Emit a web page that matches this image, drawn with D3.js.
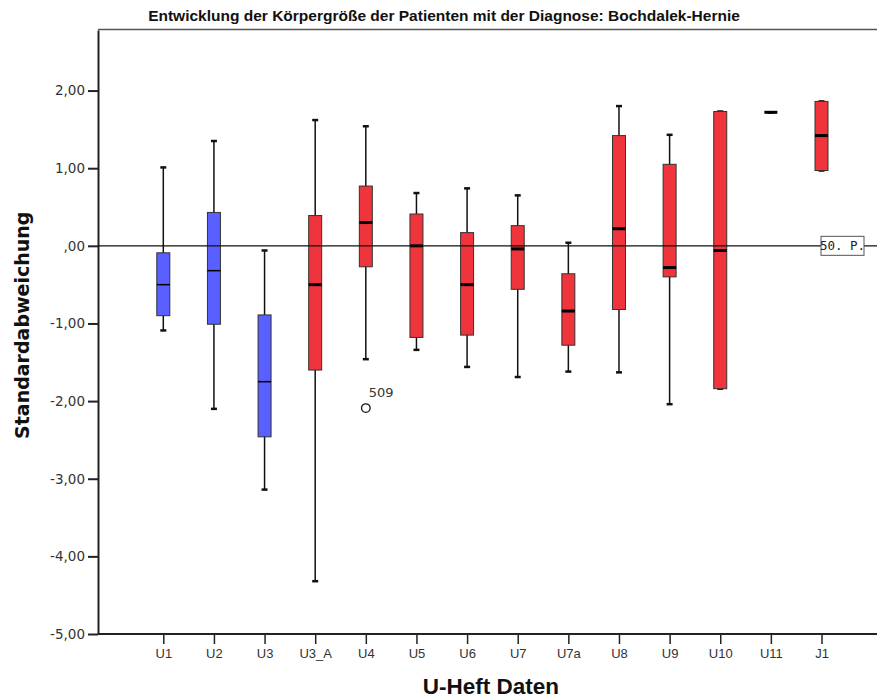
<!DOCTYPE html>
<html>
<head>
<meta charset="utf-8">
<script src="https://cdn.jsdelivr.net/npm/d3@7"></script>
<style>
  body { margin: 0; background: #fff; }
  svg { display: block; }
  .tick text { fill: #333; }
</style>
</head>
<body>
<div id="chart"></div>
<script>
// Box plot data (standard deviation units)
const categories = ['U1', 'U2', 'U3', 'U3_A', 'U4', 'U5', 'U6', 'U7', 'U7a', 'U8', 'U9', 'U10', 'U11', 'J1'];
const groups     = ['blue', 'blue', 'blue', 'red', 'red', 'red', 'red', 'red', 'red', 'red', 'red', 'red', 'red', 'red'];
const whiskerLow = [-1.09, -2.10, -3.14, -4.32, -1.46, -1.34, -1.56, -1.69, -1.62, -1.63, -2.04, -1.84, 1.72, 0.97];
const q1         = [-0.90, -1.01, -2.46, -1.60, -0.27, -1.18, -1.15, -0.56, -1.28, -0.82, -0.40, -1.84, 1.72, 0.97];
const medians    = [-0.50, -0.32, -1.75, -0.50, 0.30, 0.00, -0.50, -0.04, -0.84, 0.22, -0.28, -0.06, 1.72, 1.42];
const q3         = [-0.09, 0.43, -0.89, 0.39, 0.77, 0.41, 0.17, 0.26, -0.36, 1.42, 1.05, 1.73, 1.72, 1.86];
const whiskerHigh = [1.01, 1.35, -0.06, 1.62, 1.54, 0.68, 0.74, 0.65, 0.04, 1.80, 1.43, 1.73, 1.72, 1.86];
const outliers = [{ cat: 'U4', value: -2.09, label: '509' }];
const yTicks = [-5, -4, -3, -2, -1, 0, 1, 2];

const colors = { blue: '#5a5fff', red: '#f0343c' };

const width = 877, height = 700;
const plotLeft = 98, plotTop = 30, plotBottom = 634;

const svg = d3.select('#chart').append('svg')
    .attr('width', width)
    .attr('height', height);

const x = d3.scalePoint().domain(categories).range([163.3, 821.5]);
const y = d3.scaleLinear().domain([-5, 2.78]).range([plotBottom, plotTop]);

const fmt = v => {
    if (v === 0) return ',00';
    return d3.format('.2f')(v).replace('.', ',').replace('−', '-');
};

// title
svg.append('text')
    .attr('x', 444).attr('y', 21)
    .attr('text-anchor', 'middle')
    .style('font-family', '"Liberation Sans", sans-serif')
    .style('font-weight', 'bold')
    .style('font-size', '15.5px')
    .attr('fill', '#111')
    .text('Entwicklung der Körpergröße der Patienten mit der Diagnose: Bochdalek-Hernie');

// frame top
svg.append('line')
    .attr('x1', plotLeft).attr('x2', width)
    .attr('y1', plotTop - 0.5).attr('y2', plotTop - 0.5)
    .attr('stroke', '#555').attr('stroke-width', 1.5);

// y axis
const yAxis = svg.append('g')
    .attr('transform', `translate(${plotLeft},0)`)
    .call(d3.axisLeft(y).tickValues(yTicks).tickFormat(fmt).tickSize(10).tickSizeOuter(0).tickPadding(3));
yAxis.select('.domain').attr('stroke', '#222').attr('stroke-width', 2);
yAxis.selectAll('.tick line').attr('stroke', '#222').attr('stroke-width', 2);
yAxis.selectAll('.tick text')
    .style('font-family', '"DejaVu Sans", sans-serif')
    .style('font-size', '13.5px');

// x axis
const xAxis = svg.append('g')
    .attr('transform', `translate(0,${plotBottom})`)
    .call(d3.axisBottom(x).tickSize(10).tickSizeOuter(0).tickPadding(5));
xAxis.select('.domain').remove();
xAxis.selectAll('.tick line').attr('stroke', '#222').attr('stroke-width', 1.5);
xAxis.selectAll('.tick text')
    .style('font-family', '"Liberation Sans", sans-serif')
    .style('font-size', '13px');
svg.append('line')
    .attr('x1', plotLeft).attr('x2', width)
    .attr('y1', plotBottom).attr('y2', plotBottom)
    .attr('stroke', '#222').attr('stroke-width', 2);

// axis titles
svg.append('text')
    .attr('transform', `translate(29,${(y(2) + y(-5)) / 2 - 37}) rotate(-90)`)
    .attr('text-anchor', 'middle')
    .style('font-family', '"DejaVu Sans", sans-serif')
    .style('font-weight', 'bold')
    .style('font-size', '19px')
    .attr('fill', '#111')
    .text('Standardabweichung');

svg.append('text')
    .attr('x', 491).attr('y', 694)
    .attr('text-anchor', 'middle')
    .style('font-family', '"Liberation Sans", sans-serif')
    .style('font-weight', 'bold')
    .style('font-size', '22.5px')
    .attr('fill', '#111')
    .text('U-Heft Daten');

// boxes
const boxW = 13, capW = 6;
const rows = categories.map((c, i) => ({
    cat: c, group: groups[i],
    lo: whiskerLow[i], q1: q1[i], med: medians[i], q3: q3[i], hi: whiskerHigh[i]
}));

const box = svg.append('g').selectAll('g')
    .data(rows)
    .join('g')
    .attr('transform', d => `translate(${x(d.cat)},0)`);

box.append('line')
    .attr('y1', d => y(d.hi)).attr('y2', d => y(d.lo))
    .attr('stroke', '#111').attr('stroke-width', 1.5);

box.selectAll('.cap')
    .data(d => [d.lo, d.hi])
    .join('line')
    .attr('class', 'cap')
    .attr('x1', -capW / 2).attr('x2', capW / 2)
    .attr('y1', v => y(v)).attr('y2', v => y(v))
    .attr('stroke', '#111').attr('stroke-width', 2.5);

box.append('rect')
    .attr('x', -boxW / 2)
    .attr('y', d => y(d.q3))
    .attr('width', boxW)
    .attr('height', d => y(d.q1) - y(d.q3))
    .attr('fill', d => colors[d.group])
    .attr('stroke', '#333').attr('stroke-width', 1);

box.append('line')
    .attr('x1', -boxW / 2).attr('x2', boxW / 2)
    .attr('y1', d => y(d.med)).attr('y2', d => y(d.med))
    .attr('stroke', '#000')
    .attr('stroke-width', d => d.group === 'red' ? 3 : 1.5);

// reference line at the median (50. percentile)
svg.append('line')
    .attr('x1', plotLeft).attr('x2', width)
    .attr('y1', y(0)).attr('y2', y(0))
    .attr('stroke', '#111').attr('stroke-width', 1.2);

const refLabel = svg.append('g').attr('transform', `translate(842.5,${y(0)})`);
refLabel.append('rect')
    .attr('x', -21.5).attr('y', -9.5).attr('width', 43).attr('height', 19)
    .attr('fill', '#fff').attr('stroke', '#555').attr('stroke-width', 1);
refLabel.append('text')
    .attr('text-anchor', 'middle').attr('dy', '0.36em')
    .style('font-family', '"DejaVu Sans Mono", monospace')
    .style('font-size', '12.5px')
    .attr('fill', '#222')
    .text('50. P.');

// outliers
const out = svg.append('g').selectAll('g')
    .data(outliers)
    .join('g')
    .attr('transform', d => `translate(${x(d.cat)},${y(d.value)})`);
out.append('circle')
    .attr('r', 4.3)
    .attr('fill', '#fff').attr('stroke', '#111').attr('stroke-width', 1.3);
out.append('text')
    .attr('x', 3).attr('y', -11)
    .style('font-family', '"DejaVu Sans", sans-serif')
    .style('font-size', '13px')
    .attr('fill', '#333')
    .text(d => d.label);
</script>
</body>
</html>
